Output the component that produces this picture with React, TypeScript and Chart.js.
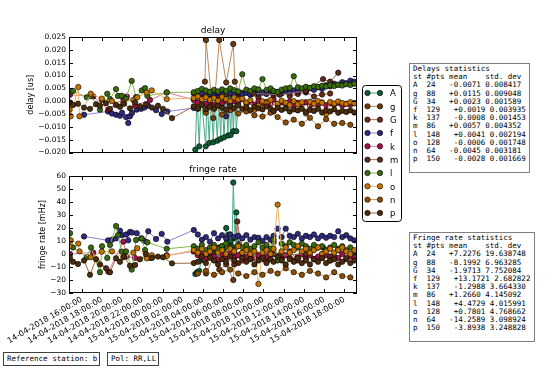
import React, { useEffect, useRef } from "react";
import { Chart, registerables } from "chart.js";
Chart.register(...registerables);
Chart.defaults.font.family = "'DejaVu Sans', sans-serif";

const STATIONS = ["A", "g", "G", "f", "k", "m", "l", "o", "n", "p"];
const MARKER_COLORS = ["#0d5e33", "#6a3912", "#6b2b1b", "#2f2b7c", "#a3104c", "#5b2b1a", "#3a6b0f", "#c47400", "#8c4d04", "#4b2c0b"];
const LINE_COLORS = ["#47a887", "#b78a5c", "#a86a58", "#8a80cc", "#e27aa8", "#a06a55", "#86b84a", "#ebb665", "#c69050", "#9a6a40"];

const X_MIN = 14.74;
const X_MAX = 43.26;
const TICK_HOURS = [16, 18, 20, 22, 24, 26, 28, 30, 32, 34, 36, 38, 40, 42];
const TICK_LABELS = [
  "14-04-2018 16:00:00", "14-04-2018 18:00:00", "14-04-2018 20:00:00", "14-04-2018 22:00:00",
  "15-04-2018 00:00:00", "15-04-2018 02:00:00", "15-04-2018 04:00:00", "15-04-2018 06:00:00",
  "15-04-2018 08:00:00", "15-04-2018 10:00:00", "15-04-2018 12:00:00", "15-04-2018 14:00:00",
  "15-04-2018 16:00:00", "15-04-2018 18:00:00",
];
const DELAY_TICKS = [-0.02, -0.015, -0.01, -0.005, 0, 0.005, 0.01, 0.015, 0.02, 0.025];
const DELAY_LABELS = ["\u22120.020", "\u22120.015", "\u22120.010", "\u22120.005", "0.000", "0.005", "0.010", "0.015", "0.020", "0.025"];
const RATE_TICKS = [-30, -20, -10, 0, 10, 20, 30, 40, 50, 60];
const RATE_LABELS = ["\u221230", "\u221220", "\u221210", "0", "10", "20", "30", "40", "50", "60"];

// scan times (hours since 14-04-2018 00:00)
const DENSE_T = [27.1, 27.5, 27.9, 28.3, 28.7, 29.1, 29.5, 29.9, 30.3, 30.7, 31.1, 31.5, 31.9, 32.3, 32.7, 33.1, 33.5, 33.9, 34.3, 34.7, 35.0, 35.4, 35.8, 36.2, 36.6, 37.0, 37.4, 37.8, 38.2, 38.6, 39.0, 39.4, 39.8, 40.2, 40.6, 41.0, 41.4, 41.8, 42.2, 42.6, 43.0];

const A_T = [27.25, 27.42, 27.64, 27.81, 28.28, 28.41, 28.63, 28.8, 29.03, 29.2, 29.43, 29.59, 29.76, 29.89, 30.09, 30.31, 30.48, 30.58, 30.75, 30.88, 31.01, 31.18, 31.31, 31.57];
const A_DELAY = [-0.0189, 0.0025, -0.0176, 0.003, -0.0176, 0.0022, -0.0163, 0.0028, -0.016, 0.002, -0.0154, 0.0026, -0.0147, 0.0024, -0.0141, 0.003, -0.0134, 0.0022, -0.0132, 0.0028, -0.0117, 0.0025, -0.0117, 0.003];
const A_RATE = [-15.4, -14, -13, -5, 0, 2, -1, 3, 1, 4, 2, 5, 3, 6, 4, 20, 8, 15, 10, 6, 55, 12, 32, 8];

const g_T = [28.2, 28.31, 29.03, 29.62, 30.31, 31.01, 31.16, 31.6];
const g_DELAY = [0.0076, 0.0238, -0.0066, 0.0238, 0.0073, 0.0223, 0.0076, 0.003];
const g_RATE = [-5, -15, -3, -12, -8, -20, -2, -1];

const G_T = [27.1, 27.9, 28.7, 29.5, 30.3, 31.1, 31.4, 31.9, 32.7, 33.5, 34.3, 35.0, 35.8, 36.6, 37.4, 38.2, 39.0, 39.8, 40.6];
const G_DELAY = [0.003, 0.0022, 0.0035, 0.0018, 0.0028, 0.004, 0.002, 0.0032, 0.0025, 0.0015, 0.003, 0.0022, 0.0036, 0.002, 0.0028, 0.0034, 0.0018, 0.0026, 0.003];
const G_RATE = [2, -3, 0, -5, -2, -8, 25, 1, -4, -1, -6, 0, -3, 2, -5, -1, -4, 0, -2];

const F_EARLY_T = [16.23, 18.6, 18.99, 19.4, 19.79, 19.99, 20.39, 20.61, 20.78, 20.98, 21.45, 21.89, 22.2, 22.59, 23.36, 23.92, 24.48];
const F_EARLY_DELAY = [-0.0053, -0.004, -0.0048, -0.0053, -0.0057, -0.0045, -0.0062, -0.0085, -0.0059, -0.0046, -0.0033, -0.003, -0.0025, -0.0018, -0.0035, -0.005, -0.004];
const F_EARLY_RATE = [13.5, 10.5, 11, 12, 18, 14.5, 15, 10.5, 17, 16.5, 16, 12, 10, 17.5, 11.5, 15.5, 9.5];
const F_DELAY = [-0.0027, 0.002, 0.003, 0.0018, 0.0028, 0.0022, 0.0032, 0.0026, -0.0059, 0.003, 0.0024, 0.0034, 0.0028, 0.0032, 0.0026, 0.0036, 0.003, 0.0034, 0.0028, 0.0038, 0.0032, 0.0036, 0.003, 0.004, 0.0034, 0.0042, 0.0038, 0.0046, 0.004, 0.005, 0.0044, 0.0054, 0.0048, 0.0062, 0.0058, 0.0068, 0.0064, 0.0074, 0.007, 0.008, 0.0076];
const F_RATE = [18.5, 15, 11, 13, 9.5, 16, 12, 14.5, 12, 15, 13, 14, 12, 14.5, 11, 13, 12.5, 10, 13, 11, 14, 19.5, 13, 19.5, 14, 13, 15.5, 12, 14, 13, 15, 12, 14, 12.5, 14, 13, 17.5, 13, 14.5, 12, 10.5];

const K_EARLY_T = [14.84, 17.15, 18.63, 20.12, 20.46, 21.28, 22.76, 24.42];
const K_EARLY_DELAY = [0.0025, 0.0018, -0.0033, 0.001, 0.0018, -0.0018, 0.0005, 0.0034];
const K_EARLY_RATE = [0, 1, -13.6, 9.5, -2, -3, -3, -1];
const K_DELAY = [0.0005, -0.0005, 0.001, -0.001, 0, -0.0015, 0.0005, -0.0008, 0.0002, -0.0012, 0, -0.0006, 0.0008, -0.001, -0.0002, -0.0014, 0, -0.0008, -0.0003, -0.0012, 0.0006, -0.0015, -0.0005, -0.001, -0.0002, -0.0016, -0.0006, -0.0012, -0.0004, -0.0018, -0.0008, -0.0014, -0.0005, -0.0016, -0.0009, -0.0013, -0.0006, -0.0017, -0.001, -0.0014, -0.0008];
const K_RATE = [2, -1, 0, -3, 1, -2, -4, 0, -2, 1, -3, -1, -5, -2, 0, -3, -1, -4, -2, 0, 9, -2, -4, -1, -3, -5, -2, 0, -3, -1, -4, -2, -3, -1, -5, -2, -3, 0, -4, -2, -3];

const M_T = [33.0, 35.6, 38.2, 39.9, 40.6, 41.4];
const M_DELAY = [0.003, 0.0025, 0.004, 0.0086, 0.0076, 0.0111];
const M_RATE = [2, -1, 0, 5, -2, 3];

const L_EARLY_T = [14.84, 15.14, 16.5, 16.92, 17.81, 18.01, 18.53, 18.8, 19.4, 19.59, 19.96, 20.39, 20.95, 21.38, 21.94, 22.27, 22.5, 24.42];
const L_EARLY_DELAY = [0.0034, 0.004, 0.0015, 0.002, -0.0033, 0.0005, 0.0029, 0.0008, 0.0047, 0.002, 0.0021, 0.001, 0.0079, 0.0016, 0.0042, 0.0051, 0.0021, 0.0034];
const L_EARLY_RATE = [16, 5, -2.5, 5, -14, 6, -3, 7, 21.5, 14.5, 1.8, 2, -12, 10.8, 12, 3, 9, 4];
const L_DELAY = [0.0035, 0.004, 0.0048, 0.0042, 0.0036, 0.0044, 0.0038, 0.0046, 0.004, 0.005, 0.0043, 0.0038, 0.0105, 0.0045, 0.004, 0.005, 0.0046, 0.0086, 0.0044, 0.005, 0.004, 0.0036, 0.0045, 0.005, 0.0052, 0.0097, 0.0054, 0.005, 0.0056, 0.0052, 0.0058, 0.0055, 0.006, 0.0057, 0.0062, 0.0059, 0.0064, 0.0061, 0.0066, 0.0063, 0.0068];
const L_RATE = [6, 4, 7, 3, 5, 7, 4, 6, 8, 5, 3, 6, 5, 7, 4, 6, 9, 5, 7, 4, 11, -5, 8, 6, 9, 7, 5, 8, 6, 4, 7, 5, 6, 3, 5, 7, 4, 6, 3, 5, 2];

const O_EARLY_T = [14.79, 14.91, 15.66, 15.78, 16.89, 17.98, 19.0, 20.12, 21.11, 21.5, 22.44, 22.93, 24.42];
const O_EARLY_DELAY = [-0.0033, -0.0059, 0.0055, -0.0059, 0.0029, 0.001, 0, -0.0005, 0.0005, 0.0015, 0.0034, 0.0042, 0.0008];
const O_EARLY_RATE = [6, 10.5, 8, 2, -2.5, 1.8, 2, -2.5, 1, 4.4, -3.3, -1, -1.5];
const O_DELAY = [0.0012, 0.0018, 0.0008, 0.0015, 0.0005, 0.0012, 0.0002, 0.0016, 0.0008, 0, 0.0014, 0.0006, 0.001, -0.0005, 0.0004, -0.0033, -0.0018, 0, -0.0008, 0.0005, -0.004, -0.001, 0.0002, -0.0006, -0.0015, 0, -0.0012, -0.0004, -0.0048, -0.0002, -0.001, 0, -0.0006, -0.005, -0.0003, -0.0009, -0.0001, -0.0007, -0.0011, -0.0004, -0.0008];
const O_RATE = [3, 1, 4, 0, 2, 5, 1, 3, 0, 4, 2, 6, 1, 3, 0, 2, -23, 1, 3, 0, 4, 38, 2, 5, 1, 3, 6, 2, 4, 1, 3, 5, 0, 2, 4, 1, 3, 5, 2, 0, 3];

const N_T = [27.5, 28.3, 29.1, 29.9, 30.7, 31.5, 32.3, 33.1, 33.9, 34.7, 35.4, 36.2, 37.0, 37.8, 38.6, 39.4, 40.2, 41.0, 41.8, 42.6];
const N_DELAY = [-0.003, -0.0045, -0.0025, -0.0052, -0.0035, -0.0048, -0.004, -0.0055, -0.006, -0.0045, -0.0062, -0.0083, -0.0072, -0.0088, -0.0065, -0.0098, -0.007, -0.0088, -0.0085, -0.0092];
const N_RATE = [-15, -13, -16, -14, -12, -15, -17, -14, -16, -13, -15, -11, -14, -16, -13, -15, -18, -14, -17, -18];

const P_EARLY_T = [14.84, 15.14, 15.63, 16.23, 16.82, 17.42, 17.81, 18.41, 18.8, 19.4, 19.79, 20.19, 20.78, 21.28, 21.77, 22.36, 22.96, 23.55, 24.05, 24.94];
const P_EARLY_DELAY = [-0.0005, -0.0015, -0.001, -0.0025, -0.003, -0.0012, -0.0018, -0.0008, -0.003, -0.0015, -0.0022, -0.001, -0.0028, -0.0005, -0.002, -0.0012, -0.0025, -0.0018, -0.003, -0.0066];
const P_EARLY_RATE = [-3, -6, -7.7, -5, -16, -4, -8, -11, -14, -3.3, -6, -2, -9, -8.5, -4, 0, -3, -2, -2.5, -7.2];
const P_DELAY = [-0.002, -0.0028, -0.0015, -0.0032, -0.0022, -0.003, -0.0018, -0.0026, -0.0034, -0.002, -0.0028, -0.0016, -0.003, -0.0024, -0.0035, -0.0022, -0.0028, -0.0032, -0.002, -0.003, -0.0038, -0.0026, -0.0034, -0.0028, -0.004, -0.0032, -0.0036, -0.003, -0.0042, -0.0034, -0.0038, -0.003, -0.0044, -0.0036, -0.004, -0.0032, -0.0045, -0.0038, -0.0042, -0.0036, -0.0044];
const P_RATE = [-7, -6, -2, -7, -3, -5, -8, -4, -6, -2, -5, -7, -3, -6, -4, -8, -5, -3, -7, -4, -6, -2, -5, -8, -4, -6, -3, -7, -5, -8, -4, -6, -3, -7, -5, -4, -8, -6, -3, -7, -5];

// statistics table
const STAT_PTS = ["24", "88", "34", "129", "137", "86", "148", "128", "64", "150"];
const DELAY_MEAN = ["-0.0071", "+0.0115", "+0.0023", "+0.0019", "-0.0008", "+0.0057", "+0.0041", "-0.0006", "-0.0045", "-0.0028"];
const DELAY_STD = ["0.008417", "0.009048", "0.001589", "0.003935", "0.001453", "0.004352", "0.002194", "0.001748", "0.003181", "0.001669"];
const RATE_MEAN = ["+7.2276", "-8.1992", "-1.9713", "+13.1721", "-1.2988", "+1.2660", "+4.4729", "+0.7801", "-14.2589", "-3.8938"];
const RATE_STD = ["19.638748", "6.963285", "7.752084", "2.682822", "3.664330", "4.145092", "4.015991", "4.768662", "3.098924", "3.248828"];

const SERIES = [
  { t: A_T, d: A_DELAY, r: A_RATE },
  { t: g_T, d: g_DELAY, r: g_RATE },
  { t: G_T, d: G_DELAY, r: G_RATE },
  { t: [...F_EARLY_T, ...DENSE_T], d: [...F_EARLY_DELAY, ...F_DELAY], r: [...F_EARLY_RATE, ...F_RATE] },
  { t: [...K_EARLY_T, ...DENSE_T], d: [...K_EARLY_DELAY, ...K_DELAY], r: [...K_EARLY_RATE, ...K_RATE] },
  { t: M_T, d: M_DELAY, r: M_RATE },
  { t: [...L_EARLY_T, ...DENSE_T], d: [...L_EARLY_DELAY, ...L_DELAY], r: [...L_EARLY_RATE, ...L_RATE] },
  { t: [...O_EARLY_T, ...DENSE_T], d: [...O_EARLY_DELAY, ...O_DELAY], r: [...O_EARLY_RATE, ...O_RATE] },
  { t: N_T, d: N_DELAY, r: N_RATE },
  { t: [...P_EARLY_T, ...DENSE_T], d: [...P_EARLY_DELAY, ...P_DELAY], r: [...P_EARLY_RATE, ...P_RATE] },
];

function framePlugin(title: string, yTicks: number[]) {
  return {
    id: "frame",
    afterDatasetsDraw(chart: any) {
      const { ctx, chartArea } = chart;
      const L = Math.round(chartArea.left), R = Math.round(chartArea.right);
      const T = Math.round(chartArea.top), B = Math.round(chartArea.bottom);
      const xs = chart.scales.x, ys = chart.scales.y;
      ctx.save();
      ctx.strokeStyle = "#000";
      ctx.lineWidth = 1;
      ctx.strokeRect(L + 0.5, T + 0.5, R - L - 1, B - T - 1);
      ctx.beginPath();
      TICK_HOURS.forEach((v) => {
        const px = Math.round(xs.getPixelForValue(v)) + 0.5;
        ctx.moveTo(px, B); ctx.lineTo(px, B - 4);
        ctx.moveTo(px, T); ctx.lineTo(px, T + 4);
      });
      yTicks.forEach((v) => {
        const py = Math.round(ys.getPixelForValue(v)) + 0.5;
        ctx.moveTo(L, py); ctx.lineTo(L + 4, py);
        ctx.moveTo(R, py); ctx.lineTo(R - 4, py);
      });
      ctx.stroke();
      ctx.fillStyle = "#000";
      ctx.font = "9px 'DejaVu Sans'";
      ctx.textAlign = "center";
      ctx.textBaseline = "alphabetic";
      ctx.fillText(title, (L + R) / 2, T - 4);
      ctx.restore();
    },
  };
}

function buildChart(canvas: HTMLCanvasElement, kind: "delay" | "rate") {
  const isDelay = kind === "delay";
  const yTicks = isDelay ? DELAY_TICKS : RATE_TICKS;
  const yLabels = isDelay ? DELAY_LABELS : RATE_LABELS;
  const datasets = STATIONS.map((st, i) => {
    const s = SERIES[i];
    const ys = isDelay ? s.d : s.r;
    return {
      label: st,
      data: s.t.map((x, j) => ({ x, y: ys[j] })),
      borderColor: LINE_COLORS[i],
      backgroundColor: MARKER_COLORS[i],
      pointBackgroundColor: MARKER_COLORS[i],
      pointBorderColor: "#000",
      pointBorderWidth: 0.6,
      pointRadius: 2.7,
      borderWidth: 1,
      tension: 0,
      order: STATIONS.length - i,
    };
  });
  return new Chart(canvas, {
    type: "line",
    data: { datasets },
    plugins: [framePlugin(isDelay ? "delay" : "fringe rate", yTicks)],
    options: {
      animation: false,
      responsive: false,
      events: [],
      layout: { padding: isDelay ? { left: 0, top: 37, right: 5, bottom: 7 } : { left: 0, top: 16, right: 5, bottom: 0 } },
      plugins: { legend: { display: false }, tooltip: { enabled: false }, title: { display: false } },
      scales: {
        x: {
          type: "linear",
          min: X_MIN,
          max: X_MAX,
          afterBuildTicks: (s: any) => { s.ticks = TICK_HOURS.map((v) => ({ value: v })); },
          afterFit: (s: any) => { s.height = isDelay ? 0 : 57; },
          grid: { display: false, drawTicks: false },
          border: { display: false },
          ticks: {
            display: !isDelay,
            autoSkip: false,
            minRotation: 30,
            maxRotation: 30,
            padding: 2,
            color: "#000",
            font: { size: 8 },
            callback: (_v: any, i: number) => TICK_LABELS[i],
          },
        },
        y: {
          type: "linear",
          min: yTicks[0],
          max: yTicks[yTicks.length - 1],
          afterBuildTicks: (s: any) => { s.ticks = yTicks.map((v) => ({ value: v })); },
          afterFit: (s: any) => { s.width = 69; },
          grid: { display: false, drawTicks: false },
          border: { display: false },
          ticks: { padding: 3, color: "#000", font: { size: 7.5 }, callback: (_v: any, i: number) => yLabels[i] },
          title: {
            display: true,
            text: isDelay ? "delay [us]" : "fringe rate [mHz]",
            color: "#000",
            font: { size: 8 },
            padding: { top: isDelay ? 26.5 : 38.5, bottom: 0 },
          },
        },
      },
    } as any,
  });
}

const mono = "'DejaVu Sans Mono', monospace";

function statsText(title: string, means: string[], stds: string[]) {
  const lines = [title, "st #pts mean    std. dev"];
  STATIONS.forEach((st, i) => lines.push(`${st}  ${STAT_PTS[i]}   ${means[i]} ${stds[i]}`));
  lines.push("");
  return lines.join("\n");
}

function StatsBox({ left, top, width, height, text }: any) {
  return (
    <div style={{ position: "absolute", left, top, width, height, boxSizing: "border-box", border: "1px solid #808080", background: "#fff" }}>
      <pre style={{ margin: 0, padding: "1px 3px", font: `7.5px ${mono}`, lineHeight: "8.2px", color: "#000" }}>{text}</pre>
    </div>
  );
}

function Legend() {
  const rowH = 13.33;
  return (
    <svg style={{ position: "absolute", left: 361, top: 84 }} width={42} height={139}>
      <rect x={1.5} y={1.5} width={39} height={136} rx={3} ry={3} fill="#fff" stroke="#000" strokeWidth={1} />
      {STATIONS.map((st, i) => {
        const cy = 9 + i * rowH;
        return (
          <g key={st}>
            <line x1={6.5} y1={cy} x2={19} y2={cy} stroke={LINE_COLORS[i]} strokeWidth={1} />
            <circle cx={6.5} cy={cy} r={2.7} fill={MARKER_COLORS[i]} stroke="#000" strokeWidth={0.6} />
            <circle cx={19} cy={cy} r={2.7} fill={MARKER_COLORS[i]} stroke="#000" strokeWidth={0.6} />
            <text x={29} y={cy + 3.2} fontFamily="'DejaVu Sans'" fontSize={8.5} fill="#000">{st}</text>
          </g>
        );
      })}
    </svg>
  );
}

export default function App() {
  const delayRef = useRef<HTMLCanvasElement>(null);
  const rateRef = useRef<HTMLCanvasElement>(null);
  useEffect(() => {
    const c1 = buildChart(delayRef.current!, "delay");
    const c2 = buildChart(rateRef.current!, "rate");
    return () => { c1.destroy(); c2.destroy(); };
  }, []);
  const smallBox: any = { position: "absolute", top: 352, height: 14, boxSizing: "border-box", border: "1px solid #404040", font: `7.5px ${mono}`, lineHeight: "12px", padding: "0 3px", whiteSpace: "pre", color: "#000" };
  return (
    <div style={{ position: "absolute", left: 0, top: 0, width: 550, height: 367, background: "#fff", overflow: "hidden" }}>
      <canvas ref={delayRef} width={362} height={160} style={{ position: "absolute", left: 0, top: 0 }} />
      <canvas ref={rateRef} width={362} height={190} style={{ position: "absolute", left: 0, top: 160 }} />
      <Legend />
      <StatsBox left={409} top={63} width={121} height={110} text={statsText("Delays statistics", DELAY_MEAN, DELAY_STD)} />
      <StatsBox left={409} top={232} width={126} height={110} text={statsText("Fringe rate statistics", RATE_MEAN, RATE_STD)} />
      <div style={{ ...smallBox, left: 3, width: 97 }}>Reference station: b</div>
      <div style={{ ...smallBox, left: 107, width: 52 }}>Pol: RR,LL</div>
    </div>
  );
}
